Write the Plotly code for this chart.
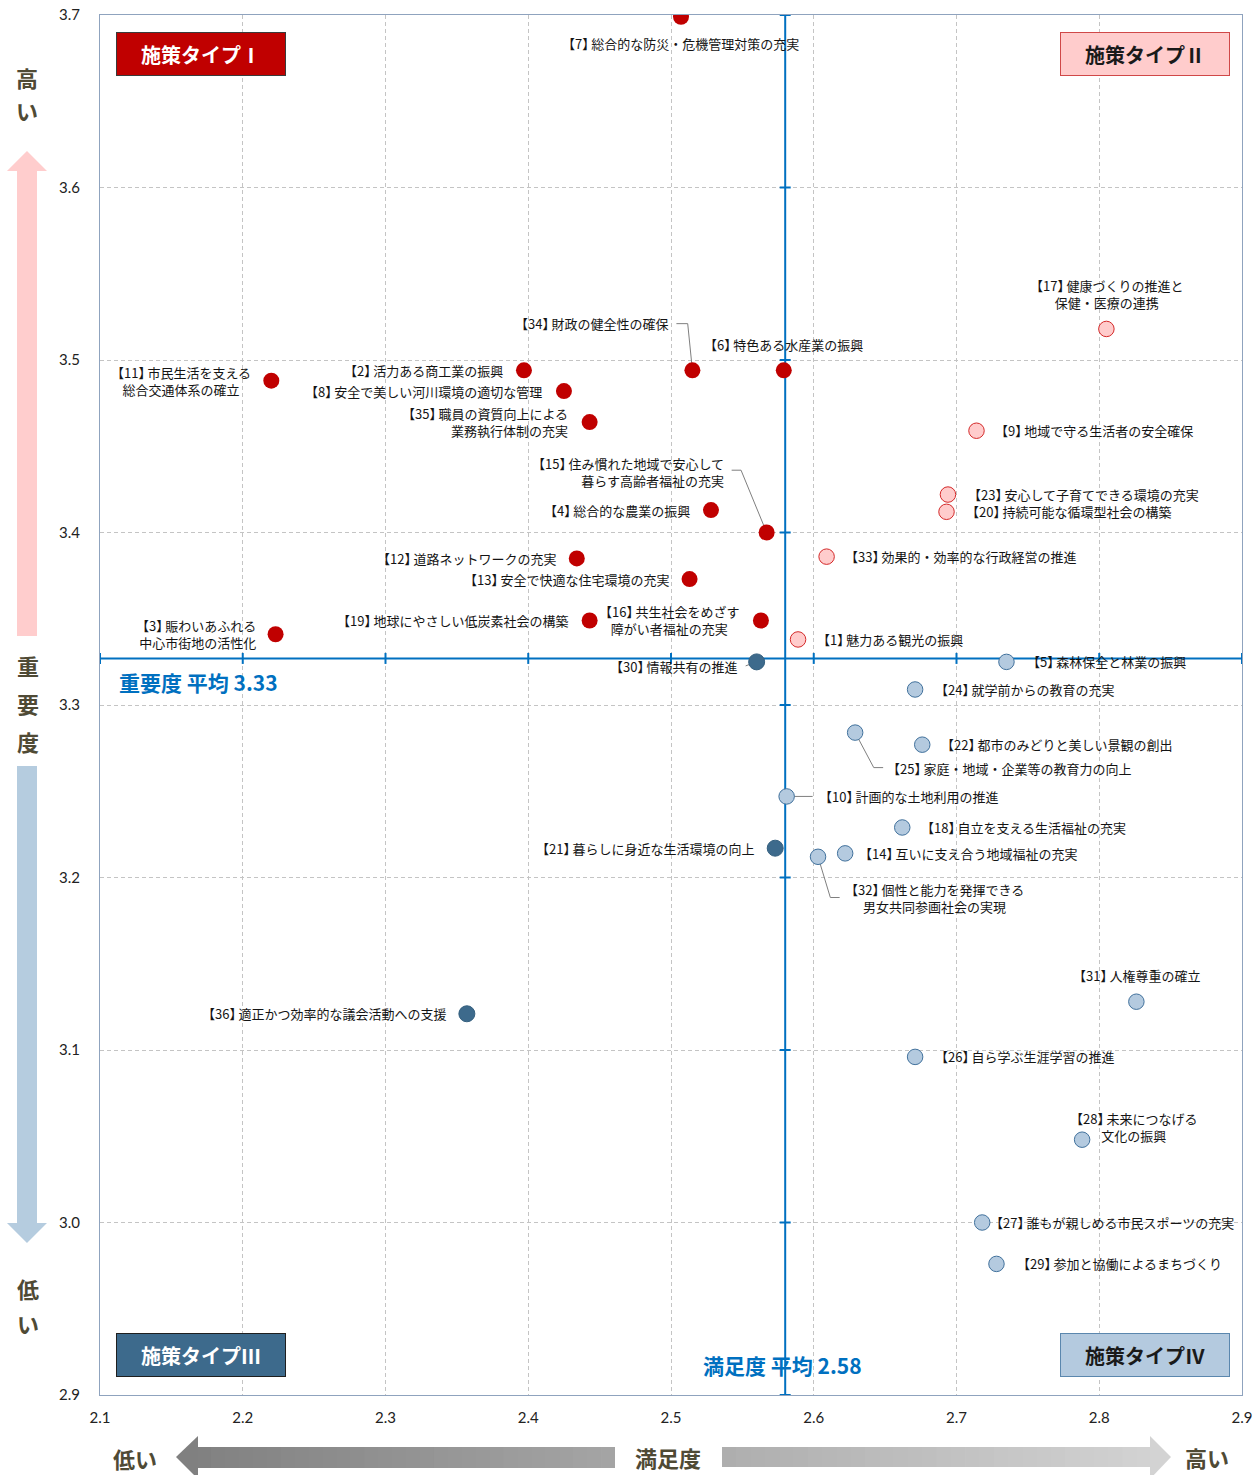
import plotly.graph_objects as go

# ---------------- data ----------------
policy_ids = list(range(1, 37))
policy_names = [
    "魅力ある観光の振興",
    "活力ある商工業の振興",
    "賑わいあふれる\n中心市街地の活性化",
    "総合的な農業の振興",
    "森林保全と林業の振興",
    "特色ある水産業の振興",
    "総合的な防災・危機管理対策の充実",
    "安全で美しい河川環境の適切な管理",
    "地域で守る生活者の安全確保",
    "計画的な土地利用の推進",
    "市民生活を支える\n総合交通体系の確立",
    "道路ネットワークの充実",
    "安全で快適な住宅環境の充実",
    "互いに支え合う地域福祉の充実",
    "住み慣れた地域で安心して\n暮らす高齢者福祉の充実",
    "共生社会をめざす\n障がい者福祉の充実",
    "健康づくりの推進と\n保健・医療の連携",
    "自立を支える生活福祉の充実",
    "地球にやさしい低炭素社会の構築",
    "持続可能な循環型社会の構築",
    "暮らしに身近な生活環境の向上",
    "都市のみどりと美しい景観の創出",
    "安心して子育てできる環境の充実",
    "就学前からの教育の充実",
    "家庭・地域・企業等の教育力の向上",
    "自ら学ぶ生涯学習の推進",
    "誰もが親しめる市民スポーツの充実",
    "未来につなげる\n文化の振興",
    "参加と協働によるまちづくり",
    "情報共有の推進",
    "人権尊重の確立",
    "個性と能力を発揮できる\n男女共同参画社会の実現",
    "効果的・効率的な行政経営の推進",
    "財政の健全性の確保",
    "職員の資質向上による\n業務執行体制の充実",
    "適正かつ効率的な議会活動への支援",
]
# 満足度 (x)
satisfaction = [
    2.589, 2.397, 2.223, 2.528, 2.735, 2.579, 2.507, 2.425, 2.714, 2.581,
    2.220, 2.434, 2.513, 2.622, 2.567, 2.563, 2.805, 2.662, 2.443, 2.693,
    2.573, 2.676, 2.694, 2.671, 2.629, 2.671, 2.718, 2.788, 2.728, 2.560,
    2.826, 2.603, 2.609, 2.515, 2.443, 2.357,
]
# 重要度 (y)
importance = [
    3.338, 3.494, 3.341, 3.413, 3.325, 3.494, 3.699, 3.482, 3.459, 3.247,
    3.488, 3.385, 3.373, 3.214, 3.400, 3.349, 3.518, 3.229, 3.349, 3.412,
    3.217, 3.277, 3.422, 3.309, 3.284, 3.096, 3.000, 3.048, 2.976, 3.325,
    3.128, 3.212, 3.386, 3.494, 3.464, 3.121,
]
satisfaction_avg = 2.580
importance_avg = 3.327

x_ticks = [2.1, 2.2, 2.3, 2.4, 2.5, 2.6, 2.7, 2.8, 2.9]
y_ticks = [2.9, 3.0, 3.1, 3.2, 3.3, 3.4, 3.5, 3.6, 3.7]

type_names = ["施策タイプⅠ", "施策タイプⅡ", "施策タイプⅢ", "施策タイプⅣ"]

# ---------------- page geometry ----------------
W, H = 1258, 1475
M = dict(l=100, r=16, t=15, b=80)
PW = W - M["l"] - M["r"]
PH = H - M["t"] - M["b"]


def px(xp):
    """page pixel x -> paper fraction"""
    return (xp - M["l"]) / PW


def py(yp):
    """page pixel y (from top) -> paper fraction"""
    return (H - M["b"] - yp) / PH


LABEL_FONT = dict(family="Noto Sans CJK JP", size=13, color="#141414")
BOLD_FONT = "Noto Sans CJK JP"
SIDE_COLOR = "#4f4a35"
AVG_COLOR = "#0070C0"


# quadrant of each policy
def quadrant(s, i):
    if i > importance_avg:
        return 0 if s < satisfaction_avg else 1
    return 2 if s < satisfaction_avg else 3


quad = [quadrant(s, i) for s, i in zip(satisfaction, importance)]

marker_styles = [
    dict(color="#C00000", size=16, line=dict(width=0)),
    dict(color="#FFCCCC", size=15.5, line=dict(color="#D42A2A", width=1)),
    dict(color="#3D6A8C", size=16, line=dict(color="#35607f", width=1)),
    dict(color="#B4CADF", size=15.5, line=dict(color="#41719C", width=1)),
]

fig = go.Figure()
for q in range(4):
    idx = [k for k in range(len(policy_ids)) if quad[k] == q]
    fig.add_trace(go.Scatter(
        x=[satisfaction[k] for k in idx],
        y=[importance[k] for k in idx],
        mode="markers",
        marker=marker_styles[q],
        name=type_names[q],
        text=[f"【{policy_ids[k]}】{policy_names[k].replace(chr(10), '')}" for k in idx],
        hovertemplate="%{text}<br>満足度 %{x:.2f}<br>重要度 %{y:.2f}<extra></extra>",
        showlegend=False,
    ))

# label placement: pixel offset from the point (dx right, dy up), anchor, alignment
label_pos = {
    1: (18.7, 0, "left", "left"),
    2: (-21, 0, "right", "right"),
    3: (-19.5, 0, "right", "right"),
    4: (-20.7, 0, "right", "right"),
    5: (20.7, 0, "left", "left"),
    6: (0, 25.7, "center", "center"),
    7: (0, -27, "center", "center"),
    8: (-21.7, 0, "right", "right"),
    9: (19, 0, "left", "left"),
    10: (32, 0, "left", "left"),
    11: (-20, 0, "right", "center"),
    12: (-21, 0, "right", "right"),
    13: (-21, 0, "right", "right"),
    14: (13.6, 0, "left", "left"),
    15: (-42.3, 61, "right", "right"),
    16: (-21.7, 0, "right", "center"),
    17: (0, 35, "center", "center"),
    18: (19, 0, "left", "left"),
    19: (-21.4, 0, "right", "right"),
    20: (19.7, 0, "left", "left"),
    21: (-21.4, 0, "right", "right"),
    22: (19, 0, "left", "left"),
    23: (19.6, 0, "left", "left"),
    24: (19.7, 0, "left", "left"),
    25: (32, -35.6, "left", "left"),
    26: (19.7, 0, "left", "left"),
    27: (8, 0, "left", "left"),
    28: (51.5, 12.3, "center", "center"),
    29: (21, 0, "left", "left"),
    30: (-19.4, -5, "right", "right"),
    31: (0, 26, "center", "center"),
    32: (27.3, -41, "left", "center"),
    33: (18.7, 0, "left", "left"),
    34: (-24.3, 46.7, "right", "right"),
    35: (-21.4, 0, "right", "right"),
    36: (-20.7, 0, "right", "right"),
}

# leader lines (pixel path relative to the point, y up)
leader_paths = {
    34: "M0,0 L-4.7,46.7 L-16,46.7",
    15: "M0,0 L-25.6,62.3 L-35,62.3",
    30: "M0,0 L-11,-4",
    25: "M0,0 L18.6,-35 L28,-35",
    10: "M0,0 L26,0",
    32: "M0,0 L12.3,-40.7 L21.6,-40.7",
}


def label_text(pid, name):
    # tighten the space that the full-width closing bracket leaves after itself
    head = f'【{pid}<span style="letter-spacing:-4px">】</span>'
    return head + name.replace("\n", "<br>")


annotations = []
shapes = []

for k, pid in enumerate(policy_ids):
    dx, dy, xa, al = label_pos[pid]
    annotations.append(dict(
        x=satisfaction[k], y=importance[k], xref="x", yref="y",
        text=label_text(pid, policy_names[k]),
        showarrow=False, xanchor=xa, yanchor="middle", align=al,
        xshift=dx, yshift=dy, font=LABEL_FONT, borderpad=0, borderwidth=0,
    ))
    if pid in leader_paths:
        shapes.append(dict(
            type="path", xref="x", yref="y",
            xsizemode="pixel", ysizemode="pixel",
            xanchor=satisfaction[k], yanchor=importance[k],
            path=leader_paths[pid], line=dict(color="#7f7f7f", width=1),
            layer="between",
        ))

# average lines with cross ticks
shapes.append(dict(type="line", xref="x", yref="y", x0=satisfaction_avg, x1=satisfaction_avg,
                   y0=y_ticks[0], y1=y_ticks[-1], line=dict(color=AVG_COLOR, width=2), layer="between"))
shapes.append(dict(type="line", xref="x", yref="y", x0=x_ticks[0], x1=x_ticks[-1],
                   y0=importance_avg, y1=importance_avg, line=dict(color=AVG_COLOR, width=2), layer="between"))
for yv in y_ticks:
    shapes.append(dict(type="line", xref="x", yref="y", xsizemode="pixel", xanchor=satisfaction_avg,
                       x0=-5.5, x1=5.5, y0=yv, y1=yv, line=dict(color=AVG_COLOR, width=2), layer="between"))
for xv in x_ticks:
    shapes.append(dict(type="line", xref="x", yref="y", ysizemode="pixel", yanchor=importance_avg,
                       y0=-5.5, y1=5.5, x0=xv, x1=xv, line=dict(color=AVG_COLOR, width=2), layer="between"))

annotations.append(dict(
    x=px(117), y=importance_avg, xref="paper", yref="y", xanchor="left", yanchor="middle",
    yshift=-24, showarrow=False, text=f"重要度 平均 {importance_avg:.2f}",
    font=dict(family=BOLD_FONT, size=21, color=AVG_COLOR, weight="bold"),
))
annotations.append(dict(
    x=satisfaction_avg, y=py(1365), xref="x", yref="paper", xanchor="center", yanchor="middle",
    xshift=-3, showarrow=False, text=f"満足度 平均 {satisfaction_avg:.2f}",
    font=dict(family=BOLD_FONT, size=21, color=AVG_COLOR, weight="bold"),
))

# policy-type boxes
box_specs = [
    (200.5, 54.3, "#C00000", "#3a3a3a", "#ffffff"),
    (1145.3, 54.3, "#FFCCCC", "#d04848", "#1a1a1a"),
    (200.5, 1355, "#3D6A8C", "#1f1f1f", "#ffffff"),
    (1144.5, 1355, "#B4CADF", "#5b87ae", "#1a1a1a"),
]
for name, (cx, cy, fill, edge, tc) in zip(type_names, box_specs):
    annotations.append(dict(
        x=px(cx), y=py(cy), xref="paper", yref="paper", xanchor="center", yanchor="middle",
        showarrow=False, text=name, width=168, height=42, bgcolor=fill, bordercolor=edge,
        borderwidth=1, borderpad=0, align="center", valign="middle",
        font=dict(family=BOLD_FONT, size=20, color=tc, weight="bold"),
    ))

# side captions
side_chars = [
    ("高", 27, 77), ("い", 27, 110),
    ("重", 28, 665), ("要", 28, 703), ("度", 28, 741),
    ("低", 28, 1288), ("い", 28, 1323),
    ("低い", 135, 1458), ("満足度", 668, 1457), ("高い", 1207, 1457),
]
for t, cx, cy in side_chars:
    annotations.append(dict(
        x=px(cx), y=py(cy), xref="paper", yref="paper", xanchor="center", yanchor="middle",
        showarrow=False, text=t,
        font=dict(family=BOLD_FONT, size=22, color=SIDE_COLOR, weight="bold"),
    ))


def poly(points):
    return "M" + " L".join(f"{px(a):.5f},{py(b):.5f}" for a, b in points) + " Z"


# vertical arrows
shapes.append(dict(type="path", xref="paper", yref="paper", layer="above",
                   path=poly([(17, 636), (17, 171), (7, 171), (27, 151), (47, 171), (37, 171), (37, 636)]),
                   fillcolor="#FFCDCD", line=dict(width=0)))
shapes.append(dict(type="path", xref="paper", yref="paper", layer="above",
                   path=poly([(17, 766), (17, 1223), (7, 1223), (27, 1243), (47, 1223), (37, 1223), (37, 766)]),
                   fillcolor="#B5CCDF", line=dict(width=0)))


# horizontal gradient arrows
def gray_at(xp):
    g = 127 + (xp - 176) / (1170 - 176) * (212 - 127)
    g = int(round(max(0, min(255, g))))
    return f"rgb({g},{g},{g})"


def gradient_bar(x0, x1, y0, y1, n=30):
    step = (x1 - x0) / n
    for i in range(n):
        a = x0 + i * step
        b = a + step + 0.8
        shapes.append(dict(type="rect", xref="paper", yref="paper", layer="above",
                           x0=px(a), x1=px(min(b, x1)), y0=py(y1), y1=py(y0),
                           fillcolor=gray_at(a + step / 2), line=dict(width=0)))


gradient_bar(197, 615, 1447, 1468)
shapes.append(dict(type="path", xref="paper", yref="paper", layer="above",
                   path=poly([(198, 1436), (176, 1457), (198, 1479)]),
                   fillcolor=gray_at(186), line=dict(width=0)))
gradient_bar(722, 1151, 1447, 1467)
shapes.append(dict(type="path", xref="paper", yref="paper", layer="above",
                   path=poly([(1150, 1436), (1171, 1457), (1150, 1479)]),
                   fillcolor=gray_at(1160), line=dict(width=0)))

axis_common = dict(
    showgrid=True, gridcolor="#c4c4c4", gridwidth=1, griddash="4px,3px",
    zeroline=False, showline=True, mirror=True, linecolor="#8fa3be", linewidth=1,
    ticks="", tickfont=dict(family="Lato", size=15, color="#222222"),
    automargin=False, fixedrange=True,
)

fig.update_layout(
    width=W, height=H,
    margin=dict(l=M["l"], r=M["r"], t=M["t"], b=M["b"], pad=0),
    paper_bgcolor="#ffffff", plot_bgcolor="#ffffff",
    xaxis=dict(range=[x_ticks[0], x_ticks[-1]], tickvals=x_ticks,
               ticktext=[f"{v:.1f}" for v in x_ticks], ticklabelstandoff=9, **axis_common),
    yaxis=dict(range=[y_ticks[0], y_ticks[-1]], tickvals=y_ticks,
               ticktext=[f"{v:.1f}" for v in y_ticks], ticklabelstandoff=16, **axis_common),
    annotations=annotations,
    shapes=shapes,
    showlegend=False,
)

fig.write_html("out.html")
